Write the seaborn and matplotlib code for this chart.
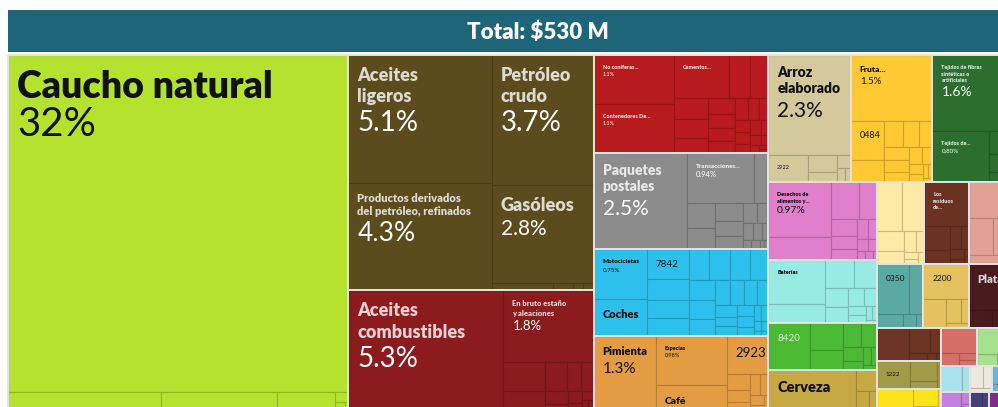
import matplotlib
matplotlib.use("Agg")
import matplotlib.pyplot as plt
import seaborn as sns
from matplotlib.patches import Rectangle
from matplotlib.colors import to_rgb

# ---- data: share of total exports (%), one list per sector, largest first ----
total_label = "Total: $530 M"

sectores = ["Plásticos y cauchos", "Productos minerales", "Metales", "Madera y piedra",
            "Servicios", "Transporte", "Productos vegetales", "Alimentos", "Frutas",
            "Textiles", "Desechos", "Maquinaria eléctrica", "Maquinaria", "Bebidas",
            "Grasas", "Residuos", "Cerámica", "Químicos", "Minerales", "Metales preciosos",
            "Cueros", "Azúcares", "Papel", "Vidrio", "Instrumentos", "Calzado",
            "Armas", "Arte", "Muebles", "Juguetes", "Otros", "Pieles"]

plasticos = [32.0, 0.9, 0.68, 0.34, 0.04, 0.02, 0.01, 0.01]
minerales = [5.1, 4.3, 3.7, 2.8, 0.12, 0.04, 0.02, 0.02]
metales = [5.3, 1.8, 0.34, 0.25, 0.18, 0.12, 0.1, 0.08, 0.06, 0.05, 0.04, 0.03, 0.02, 0.02]
madera = [1.1, 1.1, 0.65, 0.25, 0.22, 0.2, 0.17, 0.14, 0.12, 0.11, 0.1, 0.09, 0.08,
          0.07, 0.06, 0.05, 0.05, 0.04, 0.04, 0.03, 0.03, 0.02, 0.02, 0.01, 0.01]
servicios = [2.5, 0.94, 0.2, 0.19, 0.16, 0.14, 0.12, 0.1, 0.08, 0.06, 0.05, 0.04,
             0.03, 0.02, 0.02, 0.01, 0.01]
transporte = [0.75, 0.54, 0.35, 0.24, 0.22, 0.2, 0.18, 0.18, 0.17, 0.16, 0.15, 0.14,
              0.12, 0.11, 0.1, 0.09, 0.08, 0.07, 0.06, 0.06, 0.05, 0.05, 0.04, 0.03,
              0.03, 0.02, 0.02, 0.01, 0.01]
vegetales = [1.345, 0.98, 0.55, 0.44, 0.1, 0.08, 0.07, 0.06, 0.05, 0.04, 0.03, 0.02]
alimentos = [2.3, 0.3, 0.14, 0.08, 0.05, 0.03, 0.02]
frutas = [1.5, 0.36, 0.2, 0.14, 0.12, 0.1, 0.09, 0.08, 0.07, 0.06, 0.05, 0.04, 0.03, 0.02, 0.02, 0.01]
textiles = [1.6, 0.8, 0.12, 0.06, 0.04, 0.03, 0.02]
desechos = [0.97, 0.4, 0.3, 0.18, 0.12, 0.1, 0.08, 0.06, 0.05, 0.04, 0.03, 0.02, 0.02, 0.01]
electrica = [0.7, 0.3, 0.22, 0.18, 0.12, 0.1, 0.08, 0.06, 0.05, 0.04, 0.02, 0.02, 0.01]
maquinaria = [0.55, 0.25, 0.18, 0.12, 0.1, 0.08, 0.05, 0.04, 0.03, 0.02]
bebidas = [1.05, 0.12, 0.07, 0.04, 0.02]
grasas = [0.35, 0.3, 0.15, 0.1, 0.07, 0.05, 0.03, 0.02, 0.02]
residuos = [0.55, 0.17, 0.1, 0.07, 0.05, 0.04, 0.02, 0.01, 0.01]
ceramica = [0.4, 0.25, 0.15, 0.1]
quimicos = [0.45, 0.2, 0.1, 0.05, 0.03]
minerales2 = [0.45, 0.18, 0.1, 0.05, 0.03]
preciosos = [0.5, 0.12, 0.08]
cueros = [0.3, 0.15, 0.08, 0.04, 0.02, 0.01]
azucares = [0.25, 0.15, 0.06, 0.03]
papel = [0.25, 0.12, 0.05, 0.02]
vidrio = [0.25, 0.07, 0.04, 0.03]
instrumentos = [0.22, 0.07, 0.04]
calzado = [0.15, 0.05]
armas = [0.12, 0.03, 0.02]
arte = [0.08, 0.05, 0.03]
muebles = [0.08, 0.04]
juguetes = [0.07, 0.04]
otros = [0.06]
pieles = [0.05]

valores = [plasticos, minerales, metales, madera, servicios, transporte, vegetales,
           alimentos, frutas, textiles, desechos, electrica, maquinaria, bebidas, grasas,
           residuos, ceramica, quimicos, minerales2, preciosos, cueros, azucares, papel,
           vidrio, instrumentos, calzado, armas, arte, muebles, juguetes, otros, pieles]

# names of the leading products in each sector (same order as the values)
nombres = [
    ["Caucho natural"],
    ["Aceites\nligeros", "Productos derivados\ndel petróleo, refinados", "Petróleo\ncrudo", "Gasóleos"],
    ["Aceites\ncombustibles", "En bruto estaño\ny aleaciones"],
    ["No coníferas...", "Contenedores De...", "Cementos..."],
    ["Paquetes\npostales", "Transacciones..."],
    ["Motocicletas", "Coches", "7842"],
    ["Pimienta", "Especias", "Café", "2923"],
    ["Arroz\nelaborado", "2922"],
    ["Fruta...", "0484"],
    ["Tejidos de fibras\nsintéticas o\nartificiales", "Tejidos de..."],
    ["Desechos de\nalimentos y..."],
    ["Baterías"],
    ["8420"],
    ["Cerveza"],
    [],
    ["Los\nresiduos\nde..."],
    [],
    ["0350"],
    ["2200"],
    ["Plata"],
    [], ["1222"], [], [], [], [], [], [], [], [], [], [],
]

# ---- styles ----
colores = ["#b5e22e", "#5b4b1d", "#8b1b1d", "#b81b1d", "#8c8c8c", "#2dc0ec", "#e49c43",
           "#d4c99b", "#fec933", "#2b6e2d", "#e07fcb", "#98ebe3", "#4cb934", "#c6a943",
           "#fdeaa6", "#6b3221", "#e3a196", "#5ba9a3", "#e6c15f", "#4a1b1d", "#6b3423",
           "#a19a48", "#fee31c", "#d76e67", "#a6e18e", "#a8e3ec", "#c280e0", "#eee8dd",
           "#6db4da", "#463f79", "#7e2d86", "#9c7c4d"]
texto_claro = {1, 2, 3, 4, 9, 12, 15, 19, 20, 29, 30, 31}

# label font sizes in points: (name, percentage); 0 = no percentage
estilos = {
    "Caucho natural": (27, 29),
    "Aceites\nligeros": (13, 20),
    "Productos derivados\ndel petróleo, refinados": (8, 19),
    "Petróleo\ncrudo": (13, 20),
    "Gasóleos": (13, 15),
    "Aceites\ncombustibles": (13, 20),
    "En bruto estaño\ny aleaciones": (5.5, 9.5),
    "No coníferas...": (4, 4),
    "Contenedores De...": (4, 4),
    "Cementos...": (4, 0),
    "Paquetes\npostales": (10, 15),
    "Transacciones...": (4.5, 5.5),
    "Motocicletas": (4.5, 4.5),
    "Coches": (8, 0),
    "7842": (7, 0),
    "Pimienta": (8, 11),
    "Especias": (4, 4),
    "Café": (7.5, 0),
    "2923": (9.5, 0),
    "Arroz\nelaborado": (10, 15),
    "2922": (4, 0),
    "Fruta...": (6, 7),
    "0484": (6.5, 0),
    "Tejidos de fibras\nsintéticas o\nartificiales": (4, 10),
    "Tejidos de...": (4, 4.5),
    "Desechos de\nalimentos y...": (4, 7.5),
    "Baterías": (4, 0),
    "8420": (7, 0),
    "Cerveza": (10.5, 0),
    "Los\nresiduos\nde...": (4, 0),
    "0350": (6, 0),
    "2200": (6, 0),
    "Plata": (8, 0),
    "1222": (4.5, 0),
}

PHI = (1 + 5 ** 0.5) / 2
PX = 100 / 72  # pixels per point


def squarify(vals, x0, y0, x1, y1):
    """Port of d3.treemapSquarify (golden ratio) -> list of (x, y, w, h)."""
    vals = list(vals)
    value = float(sum(vals))
    out = []
    i0 = i1 = 0
    n = len(vals)
    while i0 < n:
        dx, dy = x1 - x0, y1 - y0
        s = vals[i1]
        i1 += 1
        vmin = vmax = s
        alpha = max(dy / dx, dx / dy) / (value * PHI)
        beta = s * s * alpha
        best = max(vmax / beta, beta / vmin)
        while i1 < n:
            v = vals[i1]
            s2 = s + v
            mn, mx = min(vmin, v), max(vmax, v)
            beta = s2 * s2 * alpha
            r = max(mx / beta, beta / mn)
            if r > best:
                break
            s, vmin, vmax, best = s2, mn, mx, r
            i1 += 1
        row = vals[i0:i1]
        if dx < dy:
            yb = y0 + dy * s / value if i1 < n else y1
            xx = x0
            for v in row:
                w = dx * v / s
                out.append((xx, y0, w, yb - y0))
                xx += w
            y0 = yb
        else:
            xb = x0 + dx * s / value if i1 < n else x1
            yy = y0
            for v in row:
                h = dy * v / s
                out.append((x0, yy, xb - x0, h))
                yy += h
            x0 = xb
        value -= s
        i0 = i1
    return out


def pct_text(v):
    if v >= 10:
        return f"{v:.0f}%"
    if v >= 1:
        return f"{v:.1f}%"
    return f"{v:.2f}%"


def darker(c, f=0.8):
    r, g, b = to_rgb(c)
    return (r * f, g * f, b * f)


def etiqueta(ax, rx, ry, nombre, valor, claro):
    tam, tam_pct = estilos[nombre]
    px = tam * PX
    col_n = (1, 1, 1, 0.8) if claro else "#111111"
    col_p = "white" if claro else "#111111"
    peso = "normal" if nombre.isdigit() else "heavy"
    x = rx + 9
    yb = ry + 9 + 0.2 * px + 0.72 * px
    lineas = nombre.split("\n")
    for k, linea in enumerate(lineas):
        ax.text(x, yb + k * 1.2 * px, linea, fontsize=tam, fontweight=peso, color=col_n,
                ha="left", va="baseline", clip_on=True)
    if tam_pct:
        last = yb + (len(lineas) - 1) * 1.2 * px
        yp = last + min(9, 0.6 * px) + 0.72 * tam_pct * PX
        ax.text(x, yp, pct_text(valor), fontsize=tam_pct, fontweight="normal", color=col_p,
                ha="left", va="baseline", clip_on=True)


sns.set_theme(style="white")
plt.rcParams["font.family"] = ["Lato", "DejaVu Sans"]

fig = plt.figure(figsize=(9.98, 4.07), dpi=100)
ax = fig.add_axes([0, 0, 1, 1])
ax.set_xlim(0, 998)
ax.set_ylim(407, 0)
ax.axis("off")

X0, Y0, X1, Y1 = 8, 55, 1008, 413

# title bar
ax.add_patch(Rectangle((X0, 10), X1 - X0, 42, facecolor="#1f6579", edgecolor="none"))
ax.text(538, 32, total_label, color="white", fontsize=16, fontweight="heavy",
        ha="center", va="center", parse_math=False)

totales = [sum(v) for v in valores]
orden = sorted(range(len(sectores)), key=lambda i: -totales[i])
cajas = squarify([totales[i] for i in orden], X0, Y0, X1, Y1)

for i, (sx, sy, sw, sh) in zip(orden, cajas):
    vals = valores[i]
    idx = sorted(range(len(vals)), key=lambda j: -vals[j])
    rects = squarify([vals[j] for j in idx], sx, sy, sx + sw, sy + sh)
    col = colores[i]
    for j, (rx, ry, rw, rh) in zip(idx, rects):
        ax.add_patch(Rectangle((rx, ry), rw, rh, facecolor=col, edgecolor=darker(col),
                               linewidth=0.8))
    for j, (rx, ry, rw, rh) in zip(idx, rects):
        if j < len(nombres[i]):
            etiqueta(ax, rx, ry, nombres[i][j], vals[j], i in texto_claro)
    ax.add_patch(Rectangle((sx, sy), sw, sh, facecolor="none", edgecolor="#e4e4e4",
                           linewidth=1.4))

fig.savefig("out.png", dpi=100, facecolor="white")
